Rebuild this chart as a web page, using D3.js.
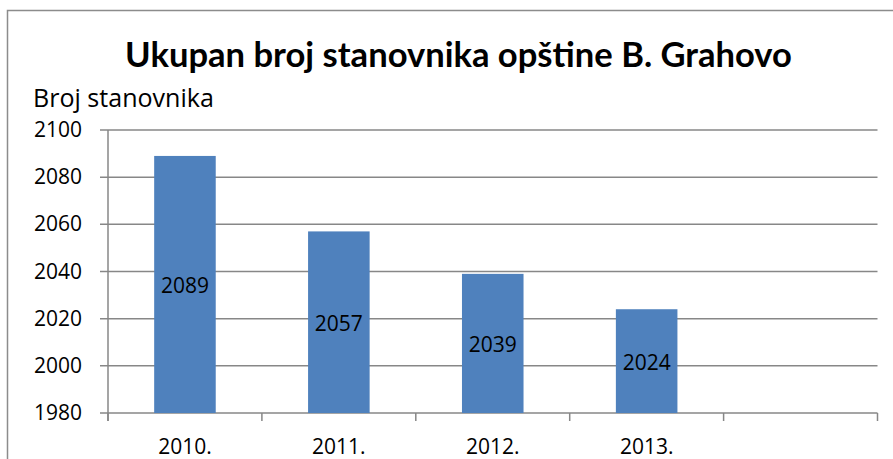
<!DOCTYPE html>
<html>
<head>
<meta charset="utf-8">
<script src="https://cdn.jsdelivr.net/npm/d3@7"></script>
<style>
  body { margin: 0; background: #fff; }
  text { font-family: "Open Sans", Lato, sans-serif; fill: #000; }
</style>
</head>
<body>
<div id="viz"></div>
<script>
// podaci
var categories = ["2010.", "2011.", "2012.", "2013.", ""];
var values = [2089, 2057, 2039, 2024];
var yTicks = [1980, 2000, 2020, 2040, 2060, 2080, 2100];
var title = "Ukupan broj stanovnika opštine B. Grahovo";
var yLabel = "Broj stanovnika";

var W = 893, H = 459;
var svg = d3.select("#viz")
    .append("svg")
    .attr("width", W)
    .attr("height", H);

// velicina fonta tako da tekst bude sirok w piksela
function fitWidth(sel, size, w) {
    sel.style("font-size", size + "px");
    var len = sel.node().getComputedTextLength();
    sel.style("font-size", (size * w / len) + "px");
}

// okvir grafikona
svg.append("rect")
    .attr("x", 7.5).attr("y", 10.5)
    .attr("width", 1000).attr("height", 1000)
    .attr("fill", "none")
    .attr("stroke", "#8c8c8c")
    .attr("stroke-width", 1.5);

var x = d3.scaleBand()
    .domain(categories)
    .range([108, 877.5])
    .paddingInner(0.6)
    .paddingOuter(0.3);

var y = d3.scaleLinear()
    .domain([1980, 2100])
    .range([413, 130]);

var grey = "#878787";

// mreza
svg.append("g").selectAll("line")
    .data(yTicks)
    .enter()
    .append("line")
    .attr("x1", 100)
    .attr("x2", 877.5)
    .attr("y1", function(d){ return y(d); })
    .attr("y2", function(d){ return y(d); })
    .attr("stroke", grey)
    .attr("stroke-width", 1.5);

// y osa
svg.append("line")
    .attr("x1", 108).attr("x2", 108)
    .attr("y1", y(2100)).attr("y2", y(1980) + 8)
    .attr("stroke", grey).attr("stroke-width", 1.5);

// crtice na x osi (granice kategorija)
var bounds = d3.range(categories.length + 1).map(function(i){ return 108 + i * (877.5 - 108) / categories.length; });
svg.append("g").selectAll("line")
    .data(bounds)
    .enter()
    .append("line")
    .attr("x1", function(d){ return d; })
    .attr("x2", function(d){ return d; })
    .attr("y1", y(1980))
    .attr("y2", y(1980) + 8)
    .attr("stroke", grey)
    .attr("stroke-width", 1.5);

// oznake y ose
svg.append("g").selectAll("text")
    .data(yTicks)
    .enter()
    .append("text")
    .attr("x", 82)
    .attr("y", function(d){ return y(d) + 7; })
    .attr("text-anchor", "end")
    .style("font-size", "21px")
    .text(function(d){ return d; });

// stubici
var bars = svg.append("g").selectAll("g")
    .data(values)
    .enter()
    .append("g");
bars.append("rect")
    .attr("x", function(d, i){ return x(categories[i]); })
    .attr("y", function(d){ return y(d); })
    .attr("width", x.bandwidth())
    .attr("height", function(d){ return y(1980) - y(d); })
    .attr("fill", "#4f81bd");
bars.append("text")
    .attr("x", function(d, i){ return x(categories[i]) + x.bandwidth() / 2; })
    .attr("y", function(d){ return (y(d) + y(1980)) / 2 + 9; })
    .attr("text-anchor", "middle")
    .style("font-size", "21px")
    .text(function(d){ return d; });

// oznake x ose
svg.append("g").selectAll("text")
    .data(categories.filter(function(d){ return d !== ""; }))
    .enter()
    .append("text")
    .attr("x", function(d){ return x(d) + x.bandwidth() / 2; })
    .attr("y", 454)
    .attr("text-anchor", "middle")
    .style("font-size", "21px")
    .text(function(d){ return d; });

// naslov
svg.append("text")
    .attr("x", 458.5)
    .attr("y", 67)
    .attr("text-anchor", "middle")
    .style("font-family", "Lato, sans-serif")
    .style("font-weight", "bold")
    .text(title)
    .call(fitWidth, 34, 667);

// naslov y ose
svg.append("text")
    .attr("x", 33)
    .attr("y", 107)
    .text(yLabel)
    .call(fitWidth, 21, 181);
</script>
</body>
</html>
